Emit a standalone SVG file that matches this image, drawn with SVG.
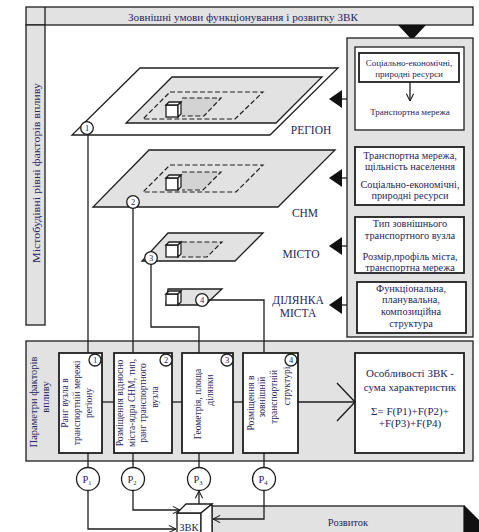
<svg xmlns="http://www.w3.org/2000/svg" width="479" height="532" viewBox="0 0 479 532">
<defs>
<style>
.ln{fill:none;stroke:#1e1e1e;stroke-width:1.3}
.gr{fill:#e2e2e2;stroke:#1e1e1e;stroke-width:1.3}
.wh{fill:#fff;stroke:#1e1e1e;stroke-width:1.3}
.bx{fill:#fff;stroke:#1e1e1e;stroke-width:1.8}
.ds{fill:none;stroke:#1e1e1e;stroke-width:1.2;stroke-dasharray:5 2.5}
.dk{fill:#d3d3d3;stroke:none}
.blk{fill:#111;stroke:none}
.t{font-family:"Liberation Serif","Times New Roman",serif;fill:#272660}
.c{text-anchor:middle}
.f8{font-size:8.5px}
.f9{font-size:9.5px}
.f95{font-size:9px}
.f10{font-size:10.5px}
.f105{font-size:10.3px}
.f11{font-size:11px}
.f115{font-size:11.5px}
.cir{fill:#fff;stroke:#1e1e1e;stroke-width:1.3}
</style>
<marker id="chev" viewBox="0 0 10 10" refX="10" refY="5" markerWidth="8" markerHeight="8" orient="auto" markerUnits="userSpaceOnUse">
<path d="M1,0.5 L10,5 L1,9.5" fill="none" stroke="#1e1e1e" stroke-width="1.3"/>
</marker>
<marker id="chevBig" viewBox="0 0 20 40" refX="19" refY="20" markerWidth="20" markerHeight="40" orient="auto" markerUnits="userSpaceOnUse">
<path d="M1,1 L19,20 L1,39" fill="none" stroke="#1e1e1e" stroke-width="1.4"/>
</marker>
</defs>
<rect width="479" height="532" fill="#fff"/>

<g id="top-bar">
<rect x="26" y="7" width="447" height="18" class="gr"/>
<line x1="45" y1="7" x2="45" y2="25" class="ln"/>
<text x="243" y="20.5" class="t f11" textLength="230" lengthAdjust="spacingAndGlyphs" text-anchor="middle">Зовнішні умови функціонування і розвитку ЗВК</text>
<polygon points="398,25 426,25 412,40" class="blk"/>
</g>

<g id="levels-label">
<rect x="26" y="25" width="19" height="300" class="gr"/>
<text transform="translate(39.5,173) rotate(-90)" class="t c f11" textLength="180" lengthAdjust="spacingAndGlyphs">Містобудівні рівні факторів впливу</text>
</g>

<g id="plane-region">
<polygon points="140,68 338,68 270,135 72,135" class="wh"/>
<polygon points="172,77 322,77 276,123 126,123" class="gr"/>
<polygon points="170,92 263,92 235,119 143,119" class="ds"/>
<polygon points="182,98 221,98 204,116 182,116" class="dk"/>
<polyline points="182,98 221,98 204,116 182,116" class="ds"/>
<rect x="166" y="105" width="12" height="12" class="wh"/>
<polygon points="166,105 169,102 181,102 178,105" class="wh"/>
<polygon points="178,105 181,102 181,114 178,117" class="wh"/>
<text x="311" y="134" class="t c f115">РЕГІОН</text>
</g>

<g id="plane-snm">
<polygon points="149,150 335,150 278,207 93,207" class="gr"/>
<polygon points="170,165 263,165 236,192 143,192" class="ds"/>
<polygon points="182,172 221,172 203,190 182,190" class="dk"/>
<polyline points="182,172 221,172 203,190 182,190" class="ds"/>
<rect x="166" y="178" width="12" height="12" class="wh"/>
<polygon points="166,178 169,175 181,175 178,178" class="wh"/>
<polygon points="178,178 181,175 181,187 178,190" class="wh"/>
<text x="305" y="217" class="t c f115">СНМ</text>
</g>

<g id="plane-city">
<polygon points="168,233 263,233 235,261 142,261" class="gr"/>
<polygon points="182,242 222,242 207,257 182,257" class="dk"/>
<polyline points="182,242 222,242 207,257 182,257" class="ds"/>
<rect x="166" y="245" width="12" height="12" class="wh"/>
<polygon points="166,245 169,242 181,242 178,245" class="wh"/>
<polygon points="178,245 181,242 181,254 178,257" class="wh"/>
<text x="301" y="258" class="t c f115">МІСТО</text>
</g>

<g id="plane-site">
<polygon points="168,289 222,289 205,305 166,305" class="gr"/>
<rect x="166" y="294" width="12" height="11" class="wh"/>
<polygon points="166,294 169,291 181,291 178,294" class="wh"/>
<polygon points="178,294 181,291 181,302 178,305" class="wh"/>
<text x="298" y="304" class="t c f115">ДІЛЯНКА</text>
<text x="298" y="317" class="t c f115">МІСТА</text>
</g>

<g id="external-factors">
<rect x="347" y="38" width="126" height="299" class="gr"/>
<rect x="355" y="47" width="109" height="83" class="wh"/>
<rect x="359" y="53" width="100" height="29" class="bx"/>
<text x="409" y="66" class="t c f95">Соціально-економічні,</text>
<text x="409" y="76.5" class="t c f95">природні ресурси</text>
<line x1="410" y1="82" x2="410" y2="101" class="ln" marker-end="url(#chev)"/>
<text x="410" y="115" class="t c f95">Транспортна мережа</text>
<rect x="355" y="147" width="109" height="58" class="bx"/>
<text x="410" y="158.5" class="t c f105">Транспортна мережа,</text>
<text x="410" y="169.5" class="t c f105">щільність населення</text>
<text x="410" y="187.5" class="t c f105">Соціально-економічні,</text>
<text x="410" y="199" class="t c f105">природні ресурси</text>
<rect x="355" y="217" width="109" height="56" class="bx"/>
<text x="410" y="226.5" class="t c f105">Тип зовнішнього</text>
<text x="410" y="238.5" class="t c f105">транспортного вузла</text>
<text x="410" y="259.5" class="t c f105">Розмір,профіль міста,</text>
<text x="410" y="271" class="t c f105">транспортна мережа</text>
<rect x="357" y="282" width="109" height="51" class="bx"/>
<text x="411" y="291.5" class="t c f105">Функціональна,</text>
<text x="411" y="303" class="t c f105">планувальна,</text>
<text x="411" y="314.5" class="t c f105">композиційна</text>
<text x="411" y="326.5" class="t c f105">структура</text>
</g>

<g id="level-arrows">
<polygon points="329,99 342,90 342,108" class="blk"/>
<line x1="342" y1="99" x2="347" y2="99" class="ln"/>
<polygon points="329,178 342,169 342,187" class="blk"/>
<line x1="342" y1="178" x2="347" y2="178" class="ln"/>
<polygon points="329,246 342,237 342,255" class="blk"/>
<line x1="342" y1="246" x2="347" y2="246" class="ln"/>
<polygon points="329,305 342,296 342,314" class="blk"/>
<line x1="342" y1="305" x2="347" y2="305" class="ln"/>
</g>

<g id="parameters">
<rect x="26" y="341" width="447" height="120" class="gr"/>
<text transform="translate(36.5,402) rotate(-90)" class="t c f10">Параметри факторів</text>
<text transform="translate(48.5,397) rotate(-90)" class="t c f10">впливу</text>
</g>

<g id="param-1">
<rect x="59" y="353" width="43" height="100" class="bx"/>
<text transform="translate(67.5,403) rotate(-90)" class="t c f9">Ранг вузла в</text>
<text transform="translate(79.5,403) rotate(-90)" class="t c f9">транспортній мережі</text>
<text transform="translate(91.5,403) rotate(-90)" class="t c f9">регіону</text>
</g>
<g id="param-2">
<rect x="114" y="353" width="58" height="100" class="bx"/>
<text transform="translate(122.5,403) rotate(-90)" class="t c f9">Розміщення відносно</text>
<text transform="translate(134.5,403) rotate(-90)" class="t c f9">міста-ядра СНМ, тип,</text>
<text transform="translate(146,403) rotate(-90)" class="t c f9">ранг транспортного</text>
<text transform="translate(157.5,397) rotate(-90)" class="t c f9">вузла</text>
</g>
<g id="param-3">
<rect x="182" y="353" width="51" height="100" class="bx"/>
<text transform="translate(200.5,404) rotate(-90)" class="t c f9">Геометрія, площа</text>
<text transform="translate(213,390) rotate(-90)" class="t c f9">ділянки</text>
</g>
<g id="param-4">
<rect x="243" y="353" width="55" height="100" class="bx"/>
<text transform="translate(253.5,403) rotate(-90)" class="t c f9">Розміщення в</text>
<text transform="translate(264.5,397) rotate(-90)" class="t c f9">зовнішній</text>
<text transform="translate(276.5,397) rotate(-90)" class="t c f9">транспортній</text>
<text transform="translate(289.5,386) rotate(-90)" class="t c f9">структурі</text>
</g>
<g id="result">
<rect x="355" y="353" width="109" height="100" class="bx"/>
<text x="410" y="376.5" class="t c f11">Особливості ЗВК -</text>
<text x="410" y="390.5" class="t c f11">сума характеристик</text>
<text x="410" y="414.5" class="t c f11">Σ= F(P1)+F(P2)+</text>
<text x="410" y="426.5" class="t c f11">+F(P3)+F(P4)</text>
</g>

<g id="development">
<rect x="212" y="506" width="252" height="40" class="gr"/>
<polygon points="464,505 464,549 486,527" class="blk"/>
<text x="348" y="526" class="t c f10">Розвиток</text>
</g>

<g id="zvk">
<rect x="177" y="513" width="24" height="30" class="wh"/>
<polygon points="177,513 186,504 212,504 201,513" class="wh"/>
<polygon points="201,513 212,504 212,540 201,549" class="wh"/>
<text x="189" y="531" class="t c f10">ЗВК</text>
</g>

<g id="connectors">
<line x1="88" y1="134.5" x2="88" y2="353" class="ln"/>
<line x1="133" y1="208" x2="133" y2="353" class="ln"/>
<polyline points="151,264 151,327 199,327 199,353" class="ln"/>
<polyline points="208,300 264,300 264,353" class="ln"/>
<line x1="102" y1="402" x2="114" y2="402" class="ln"/>
<line x1="172" y1="402" x2="182" y2="402" class="ln"/>
<line x1="233" y1="402" x2="243" y2="402" class="ln"/>
<line x1="298" y1="402" x2="355" y2="402" class="ln" marker-end="url(#chevBig)"/>
<line x1="88" y1="453" x2="88" y2="467.5" class="ln"/>
<line x1="133" y1="453" x2="133" y2="467.5" class="ln"/>
<line x1="199" y1="453" x2="199" y2="467.5" class="ln"/>
<line x1="264" y1="453" x2="264" y2="467.5" class="ln"/>
<polyline points="88,490.5 88,529 176,529" class="ln" marker-end="url(#chev)"/>
<polyline points="133,490.5 133,510 180,510" class="ln" marker-end="url(#chev)"/>
<line x1="199" y1="504" x2="199" y2="491" class="ln" marker-end="url(#chev)"/>
<polyline points="264,490.5 264,519 213,519" class="ln" marker-end="url(#chev)"/>
</g>

<g id="level-markers">
<circle cx="87" cy="128" r="6.3" class="cir"/><text x="87" y="131" class="t c f8">1</text>
<circle cx="133" cy="202" r="6.3" class="cir"/><text x="133" y="205" class="t c f8">2</text>
<circle cx="151" cy="258" r="6.3" class="cir"/><text x="151" y="261" class="t c f8">3</text>
<circle cx="202" cy="300" r="6.3" class="cir"/><text x="202" y="303" class="t c f8">4</text>
</g>

<g id="param-markers">
<circle cx="95" cy="360" r="6" class="cir"/><text x="95" y="363" class="t c f8">1</text>
<circle cx="166" cy="360" r="6" class="cir"/><text x="166" y="363" class="t c f8">2</text>
<circle cx="227" cy="360" r="6" class="cir"/><text x="227" y="363" class="t c f8">3</text>
<circle cx="291" cy="360" r="6" class="cir"/><text x="291" y="363" class="t c f8">4</text>
</g>

<g id="p-nodes">
<circle cx="88" cy="479" r="11.5" class="cir"/><text x="87" y="483" class="t c f10">P<tspan font-size="6.5" dy="2">1</tspan></text>
<circle cx="133" cy="479" r="11.5" class="cir"/><text x="132" y="483" class="t c f10">P<tspan font-size="6.5" dy="2">2</tspan></text>
<circle cx="199" cy="479" r="11.5" class="cir"/><text x="198" y="483" class="t c f10">P<tspan font-size="6.5" dy="2">3</tspan></text>
<circle cx="264" cy="479" r="11.5" class="cir"/><text x="263" y="483" class="t c f10">P<tspan font-size="6.5" dy="2">4</tspan></text>
</g>
</svg>
